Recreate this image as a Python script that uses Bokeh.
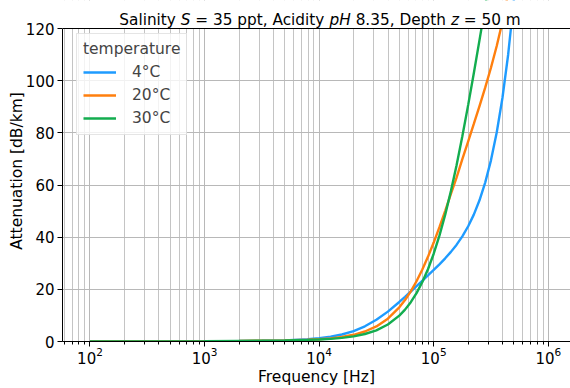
import math
from bokeh.plotting import figure
from bokeh.models import Range1d, Span, Legend, LegendItem, Label, BoxAnnotation
from bokeh.embed import file_html
from bokeh.resources import INLINE

# ---------------- data ----------------
freq_hz = [100, 316, 1000, 2000, 3160, 5000, 7940, 10000, 12600, 15800, 20000,
           25100, 31600, 39800, 50100, 56200, 63100, 70800, 79400, 89100,
           100000, 112200, 126000, 141300, 158000, 177800, 200000, 223900,
           251000, 281800, 316000, 354800, 398000, 446700, 501000, 562300, 631000]

att_4C = [0.00, 0.02, 0.11, 0.19, 0.27, 0.44, 0.84, 1.23, 1.81, 2.68, 4.00,
          5.82, 8.31, 11.46, 15.15, 17.13, 19.17, 21.22, 23.27, 25.34,
          27.44, 29.60, 31.89, 34.36, 37.04, 40.32, 44.18, 48.64,
          54.14, 61.02, 69.46, 80.12, 93.35, 110.04, 130.9, 157.2, 190.3]
att_20C = [0.00, 0.01, 0.09, 0.21, 0.30, 0.42, 0.65, 0.87, 1.21, 1.72, 2.57,
           3.83, 5.79, 8.75, 13.09, 15.90, 19.25, 23.11, 27.50, 32.46,
           37.93, 43.82, 50.11, 56.57, 62.70, 69.88, 76.76, 83.41,
           90.25, 97.42, 104.96, 113.29, 122.62, 133.48, 146.3, 161.8, 180.8]
att_30C = [0.00, 0.01, 0.07, 0.20, 0.31, 0.44, 0.63, 0.78, 1.02, 1.38, 1.98,
           2.87, 4.29, 6.51, 9.91, 12.22, 15.08, 18.54, 22.70, 27.71,
           33.65, 40.58, 48.63, 57.65, 67.41, 78.67, 90.71, 102.85,
           115.54, 128.63, 141.75, 155.14, 168.7, 182.7, 197.5, 213.7, 231.8]

series_labels = ["4°C", "20°C", "30°C"]
series_values = [att_4C, att_20C, att_30C]
series_colors = ["#1e9bff", "#ff7f0e", "#13ad4f"]

y_ticks = [0, 20, 40, 60, 80, 100, 120]
y_max = 120

legend_title = "temperature"
x_label = "Frequency [Hz]"
y_label = "Attenuation [dB/km]"
title_parts = [("Salinity", "normal"), ("S", "italic"), ("= 35 ppt, Acidity", "normal"),
               ("pH", "italic"), ("8.35, Depth", "normal"), ("z", "italic"),
               ("= 50 m", "normal")]

FONT = "DejaVu Sans"

# ---------------- layout geometry (pixels) ----------------
WIDTH, HEIGHT = 570, 388
LEFT, BOTTOM = 62, 47          # borders around the frame
AXIS_TOP_PX = 28               # pixel row of the y = 120 line
LX0, LX1 = 1.76, 6.194         # log10 of x-range ends
frame_w = WIDTH - LEFT
frame_h = HEIGHT - BOTTOM
ppu = (frame_h - AXIS_TOP_PX) / y_max          # pixels per y unit
y_top = y_max + AXIS_TOP_PX / ppu               # frame spans title strip too
ppd = frame_w / (LX1 - LX0)                     # pixels per decade


def px_to_x(px):
    return 10 ** (LX0 + (px - LEFT) / ppd)


def py_to_y(py):
    return (frame_h - py) / ppu


p = figure(width=WIDTH, height=HEIGHT, x_axis_type="log",
           x_range=Range1d(10 ** LX0, 10 ** LX1), y_range=Range1d(0, y_top),
           output_backend="svg", toolbar_location=None, title=None)
p.min_border_left = LEFT
p.min_border_right = 0
p.min_border_top = 0
p.min_border_bottom = BOTTOM
p.outline_line_color = None
p.background_fill_color = "white"
p.border_fill_color = "white"

for ax in (p.xaxis[0], p.yaxis[0]):
    ax.axis_line_color = "black"
    ax.axis_line_width = 1
    ax.major_tick_line_color = "black"
    ax.minor_tick_line_color = "black"
    ax.major_tick_in = 0
    ax.major_tick_out = 5
    ax.minor_tick_in = 0
    ax.minor_tick_out = 3
    ax.major_label_text_font = FONT
    ax.major_label_text_font_size = "15px"
    ax.major_label_text_color = "black"
    ax.axis_label_text_font = FONT
    ax.axis_label_text_font_size = "15.5px"
    ax.axis_label_text_font_style = "normal"
    ax.axis_label_text_color = "black"

p.xaxis.major_label_standoff = 0
p.xaxis.axis_label_standoff = 1
p.yaxis.major_label_standoff = 3
p.yaxis.axis_label_standoff = -3

p.xaxis.axis_label = x_label
p.yaxis.axis_label = y_label
p.yaxis.ticker = y_ticks
p.yaxis.bounds = (0, y_max)
p.yaxis.minor_tick_line_color = None

p.xgrid.grid_line_color = "#b8b8b8"
p.xgrid.minor_grid_line_color = "#c4c4c4"
p.ygrid.grid_line_color = "#b8b8b8"
p.xgrid.grid_line_width = 1
p.ygrid.grid_line_width = 1

items = []
for lab, vals, col in zip(series_labels, series_values, series_colors):
    r = p.line(freq_hz, vals, line_color=col, line_width=2.4)
    items.append(LegendItem(label=lab, renderers=[r]))

# white strip above the axes box (title area) + top spine
p.add_layout(BoxAnnotation(bottom=y_max, fill_color="white", fill_alpha=1.0,
                           line_color=None))
p.add_layout(Span(location=y_max, dimension="width", line_color="black", line_width=1))

# title made of plain and italic pieces (DejaVu Sans advance widths, em units)
W = {" ": .318, "S": .635, "a": .613, "l": .278, "i": .278, "n": .634, "t": .392,
     "y": .592, "=": .838, "3": .636, "5": .636, "8": .636, "0": .636, "p": .635,
     ",": .318, "A": .684, "c": .550, "d": .635, "H": .752, ".": .318, "D": .770,
     "e": .615, "h": .634, "z": .525, "m": .974}
TFS = 15.3


def tw(s):
    return sum(W.get(ch, 0.6) for ch in s) * TFS


total = sum(tw(t) for t, _ in title_parts) + tw(" ") * (len(title_parts) - 1)
cx = 319.5 - total / 2
for t, style in title_parts:
    p.add_layout(Label(x=px_to_x(cx), y=py_to_y(19), text=t,
                       text_font=FONT, text_font_size=f"{TFS}px", text_font_style=style,
                       text_color="black", text_baseline="alphabetic", text_align="left"))
    cx += tw(t) + tw(" ")

legend = Legend(items=items, title=legend_title, location=(14, 206),
                padding=6, spacing=3, margin=0,
                glyph_width=33, glyph_height=20, label_height=20,
                label_standoff=16, title_standoff=4,
                label_text_font=FONT, label_text_font_size="15.5px",
                title_text_font=FONT, title_text_font_size="15.5px",
                title_text_font_style="normal",
                border_line_color="#cccccc", border_line_width=1,
                background_fill_color="white", background_fill_alpha=0.8)
p.add_layout(legend)

open("out.html", "w").write(file_html(p, INLINE))
